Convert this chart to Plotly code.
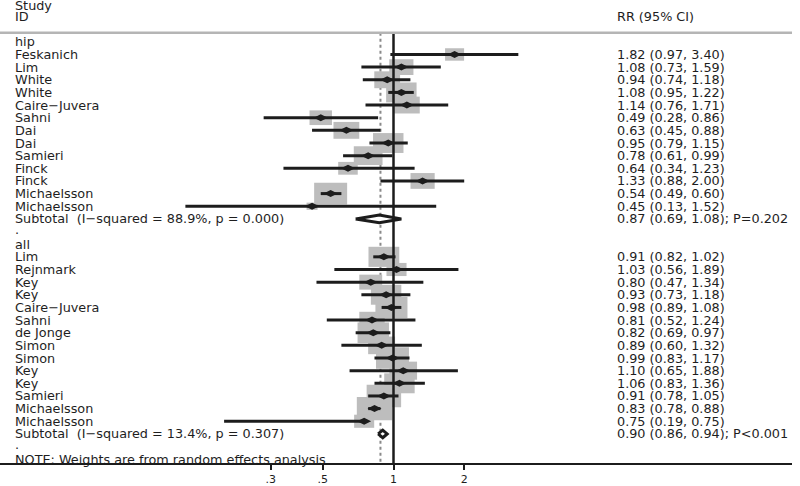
import numpy as np
import plotly.graph_objects as go

# hip fracture subgroup
hip_study = ["Feskanich", "Lim", "White", "White", "Caire−Juvera", "Sahni", "Dai", "Dai",
             "Samieri", "Finck", "Finck", "Michaelsson", "Michaelsson"]
hip_rr = [1.82, 1.08, 0.94, 1.08, 1.14, 0.49, 0.63, 0.95, 0.78, 0.64, 1.33, 0.54, 0.45]
hip_lo = [0.97, 0.73, 0.74, 0.95, 0.76, 0.28, 0.45, 0.79, 0.61, 0.34, 0.88, 0.49, 0.13]
hip_hi = [3.40, 1.59, 1.18, 1.22, 1.71, 0.86, 0.88, 1.15, 0.99, 1.23, 2.00, 0.60, 1.52]
hip_weight = [1.8, 2.9, 3.3, 4.6, 3.3, 2.5, 3.3, 4.6, 4.1, 1.9, 2.9, 5.4, 0.6]
hip_subtotal = [0.87, 0.69, 1.08]
hip_het = "I−squared = 88.9%, p = 0.000"
hip_p = "P=0.202"

# all fractures subgroup
all_study = ["Lim", "Rejnmark", "Key", "Key", "Caire−Juvera", "Sahni", "de Jonge", "Simon",
             "Simon", "Key", "Key", "Samieri", "Michaelsson", "Michaelsson"]
all_rr = [0.91, 1.03, 0.80, 0.93, 0.98, 0.81, 0.82, 0.89, 0.99, 1.10, 1.06, 0.91, 0.83, 0.75]
all_lo = [0.82, 0.56, 0.47, 0.73, 0.89, 0.52, 0.69, 0.60, 0.83, 0.65, 0.83, 0.78, 0.78, 0.19]
all_hi = [1.02, 1.89, 1.34, 1.18, 1.08, 1.24, 0.97, 1.32, 1.17, 1.88, 1.36, 1.05, 0.88, 0.75]
all_weight = [4.7, 2.0, 2.6, 4.6, 5.1, 3.2, 4.9, 3.6, 5.4, 3.8, 4.6, 5.9, 6.2, 2.0]
all_subtotal = [0.90, 0.86, 0.94]
all_het = "I−squared = 13.4%, p = 0.307"
all_p = "P<0.001"

overall_rr = 0.88
tick_vals = [0.3, 0.5, 1, 2]
tick_text = [".3", ".5", "1", "2"]

groups = [
    ("hip", hip_study, hip_rr, hip_lo, hip_hi, hip_weight, hip_subtotal, hip_het, hip_p),
    ("all", all_study, all_rr, all_lo, all_hi, all_weight, all_subtotal, all_het, all_p),
]

FONT = dict(family="DejaVu Sans", size=12.8, color="#1e1e1e")
LEFT_X = 14 / 792
RIGHT_X = 616 / 792
HEADER_ROW = -0.71
BOTTOM_ROW = 33.30
PX_PER_LN = 102.0   # x scale of the plot, pixels per unit of ln(RR)
PX_PER_ROW = 12.73  # row height in pixels

fig = go.Figure()
annotations = []
shapes = []


def label(text, row, x=LEFT_X):
    annotations.append(dict(text=text, x=x, y=row, xref="paper", yref="y", xanchor="left",
                            yanchor="middle", showarrow=False, font=FONT, borderpad=0))


# dashed overall line and header rule
shapes.append(dict(type="line", xref="x", yref="y", x0=overall_rr, x1=overall_rr,
                   y0=HEADER_ROW, y1=BOTTOM_ROW, layer="below",
                   line=dict(color="#8a8a8a", width=2, dash="3px,3px")))
shapes.append(dict(type="line", xref="paper", yref="y", x0=0, x1=1, y0=HEADER_ROW, y1=HEADER_ROW,
                   line=dict(color="#b5b5b5", width=2.5)))

ci_x, ci_y, pt_x, pt_y = [], [], [], []
row = 0
for name, study, rr, lo, hi, wt, sub, het, pval in groups:
    label(name, row)
    row += 1
    for s, r, l, h, w in zip(study, rr, lo, hi, wt):
        label(s, row)
        label("%.2f (%.2f, %.2f)" % (r, l, h), row, RIGHT_X)
        ci_x += [l, h, None]
        ci_y += [row, row, None]
        pt_x.append(r)
        pt_y.append(row)
        # weight box, area proportional to weight (stretched horizontally like the original)
        bh = 9.34 * np.sqrt(w)
        bw = 1.52 * bh
        half_x = np.exp(bw / 2 / PX_PER_LN)
        half_y = bh / 2 / PX_PER_ROW
        shapes.append(dict(type="rect", xref="x", yref="y",
                           x0=r / half_x, x1=r * half_x, y0=row - half_y, y1=row + half_y,
                           layer="below", fillcolor="#bdbdbd", line=dict(width=0)))
        row += 1
    # subtotal diamond
    label("Subtotal\u00a0\u00a0(" + het + ")", row)
    label("%.2f (%.2f, %.2f); %s" % (sub[0], sub[1], sub[2], pval), row, RIGHT_X)
    fig.add_trace(go.Scatter(x=[sub[1], sub[0], sub[2], sub[0], sub[1]],
                             y=[row, row - 0.3, row, row + 0.3, row],
                             mode="lines", fill="toself", fillcolor="white",
                             line=dict(color="#1c1c1c", width=3), hoverinfo="skip"))
    row += 1
    label(".", row - 0.15)
    row += 1

label("NOTE: Weights are from random effects analysis", row)

# confidence intervals and point estimates
fig.add_trace(go.Scatter(x=ci_x, y=ci_y, mode="lines", line=dict(color="#1c1c1c", width=3)))
fig.add_trace(go.Scatter(x=pt_x, y=pt_y, mode="markers",
                         marker=dict(symbol="diamond-wide", size=10, color="#1c1c1c")))
# null line
fig.add_trace(go.Scatter(x=[1, 1], y=[HEADER_ROW, BOTTOM_ROW], mode="lines",
                         line=dict(color="#1c1c1c", width=2.5)))

# header
label("Study", -2.84)
label("ID", -2.02)
label("RR (95% CI)", -2.02, RIGHT_X)

fig.update_layout(
    width=800, height=486,
    margin=dict(l=0, r=8, t=0, b=20, pad=0),
    paper_bgcolor="white", plot_bgcolor="white",
    showlegend=False,
    annotations=annotations,
    shapes=shapes,
    xaxis=dict(type="log", range=[-1.6754, 1.6967], tickvals=tick_vals, ticktext=tick_text,
               ticks="outside", ticklen=5, tickwidth=2, tickcolor="#1c1c1c",
               showline=True, linewidth=2, linecolor="#1c1c1c", showgrid=False, zeroline=False,
               tickfont=dict(family="DejaVu Sans", size=11, color="#1e1e1e")),
    yaxis=dict(visible=False, range=[BOTTOM_ROW, -3.307]),
)

fig.write_html("out.html", config={"displayModeBar": False},
               post_script="document.body.style.margin='0px';")
